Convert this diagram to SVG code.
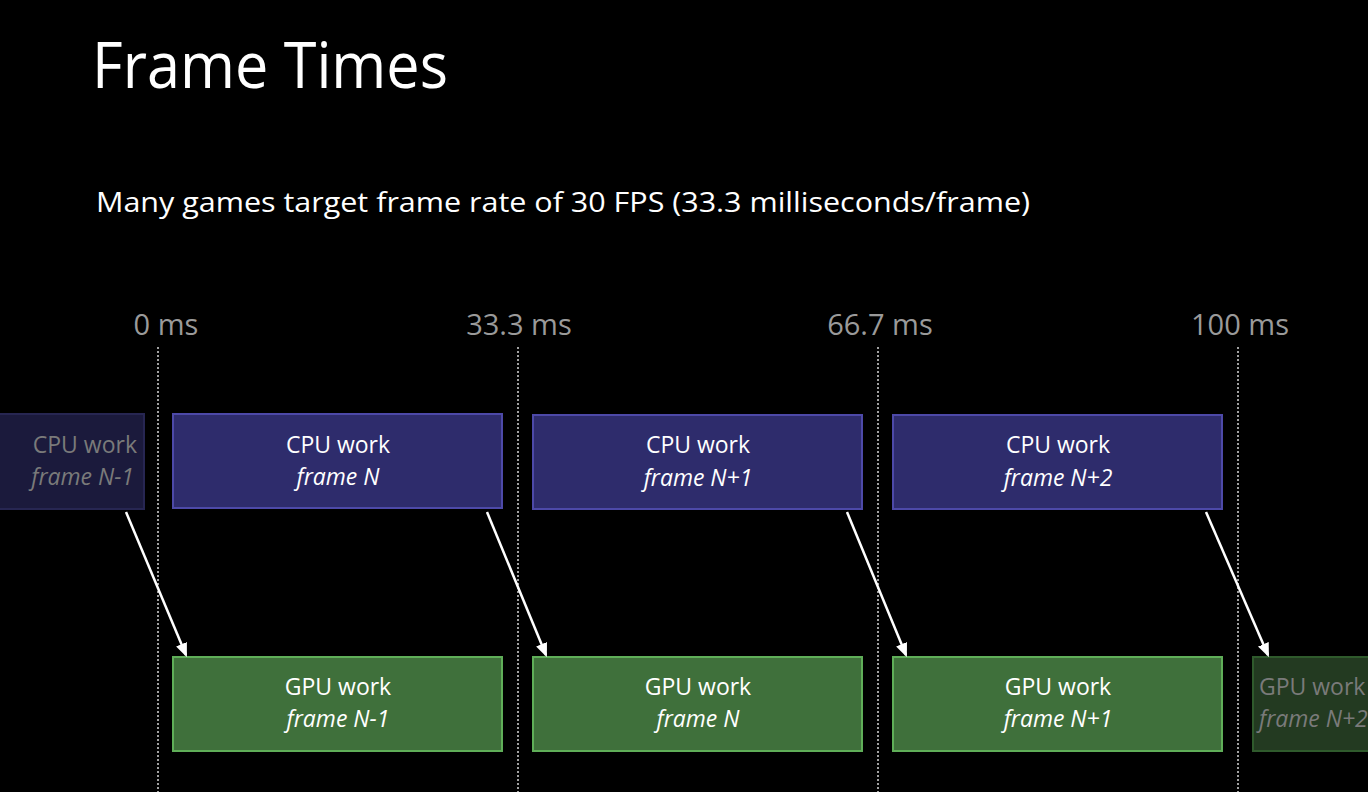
<svg xmlns="http://www.w3.org/2000/svg" width="1368" height="792" viewBox="0 0 1368 792">
<defs>
<style>
text{font-family:"Open Sans","Noto Sans","Liberation Sans",sans-serif}
.t{fill:#fff}
.tick{fill:#9a9a9a;font-size:29px;text-anchor:middle}
.grid{stroke:#a0a0a0;stroke-width:2;stroke-dasharray:2 2}
.cpu{fill:#2e2c6c;stroke:#4d49a8;stroke-width:2}
.cpuf{fill:#1b1a3c;stroke:#272652;stroke-width:2}
.gpu{fill:#3f703b;stroke:#5fae58;stroke-width:2}
.gpuf{fill:#233a21;stroke:#2f5a2c;stroke-width:2}
.lbl{fill:#fff;font-size:23px;text-anchor:middle}
.lblf{fill:#7a7a7a;font-size:23px}
.it{font-style:italic}
.arr{stroke:#fff;stroke-width:2.5;fill:none;marker-end:url(#ah)}
</style>
<marker id="ah" viewBox="0 0 12 10" refX="10" refY="5" markerWidth="14" markerHeight="12" orient="auto" markerUnits="userSpaceOnUse">
<path d="M0,0 L12,5 L0,10 z" fill="#fff"/>
</marker>
</defs>
<rect width="1368" height="792" fill="#000"/>
<text x="92" y="88" class="t" font-size="64" textLength="356" lengthAdjust="spacingAndGlyphs">Frame Times</text>
<text x="96" y="212" class="t" font-size="28" textLength="934" lengthAdjust="spacingAndGlyphs">Many games target frame rate of 30 FPS (33.3 milliseconds/frame)</text>
<g id="axis">
<line x1="158" y1="347" x2="158" y2="792" class="grid"/>
<line x1="518" y1="347" x2="518" y2="792" class="grid"/>
<line x1="878" y1="347" x2="878" y2="792" class="grid"/>
<line x1="1238" y1="347" x2="1238" y2="792" class="grid"/>
<text x="166" y="335" class="tick">0 ms</text>
<text x="519" y="335" class="tick">33.3 ms</text>
<text x="880" y="335" class="tick">66.7 ms</text>
<text x="1240" y="335" class="tick">100 ms</text>
</g>
<g id="cpu-n-1">
<rect x="-20" y="414" width="164" height="95" class="cpuf"/>
<text x="137" y="453" class="lblf" text-anchor="end">CPU work</text>
<text x="134" y="485" class="lblf it" text-anchor="end">frame N-1</text>
</g>
<g id="cpu-n">
<rect x="173" y="414" width="329" height="94" class="cpu"/>
<text x="338" y="453" class="lbl">CPU work</text>
<text x="338" y="485" class="lbl it">frame N</text>
</g>
<g id="cpu-n1">
<rect x="533" y="415" width="329" height="94" class="cpu"/>
<text x="698" y="453" class="lbl">CPU work</text>
<text x="698" y="486" class="lbl it">frame N+1</text>
</g>
<g id="cpu-n2">
<rect x="893" y="415" width="329" height="94" class="cpu"/>
<text x="1058" y="453" class="lbl">CPU work</text>
<text x="1058" y="486" class="lbl it">frame N+2</text>
</g>
<g id="gpu-n-1">
<rect x="173" y="657" width="329" height="94" class="gpu"/>
<text x="338" y="695" class="lbl">GPU work</text>
<text x="338" y="727" class="lbl it">frame N-1</text>
</g>
<g id="gpu-n">
<rect x="533" y="657" width="329" height="94" class="gpu"/>
<text x="698" y="695" class="lbl">GPU work</text>
<text x="698" y="727" class="lbl it">frame N</text>
</g>
<g id="gpu-n1">
<rect x="893" y="657" width="329" height="94" class="gpu"/>
<text x="1058" y="695" class="lbl">GPU work</text>
<text x="1058" y="727" class="lbl it">frame N+1</text>
</g>
<g id="gpu-n2">
<rect x="1253" y="657" width="140" height="94" class="gpuf"/>
<text x="1259" y="695" class="lblf">GPU work</text>
<text x="1259" y="727" class="lblf it">frame N+2</text>
</g>
<g id="connectors">
<line x1="126" y1="512" x2="186" y2="655" class="arr"/>
<line x1="487" y1="512" x2="546" y2="655" class="arr"/>
<line x1="847" y1="512" x2="906" y2="655" class="arr"/>
<line x1="1206" y1="512" x2="1268" y2="655" class="arr"/>
</g>
</svg>
